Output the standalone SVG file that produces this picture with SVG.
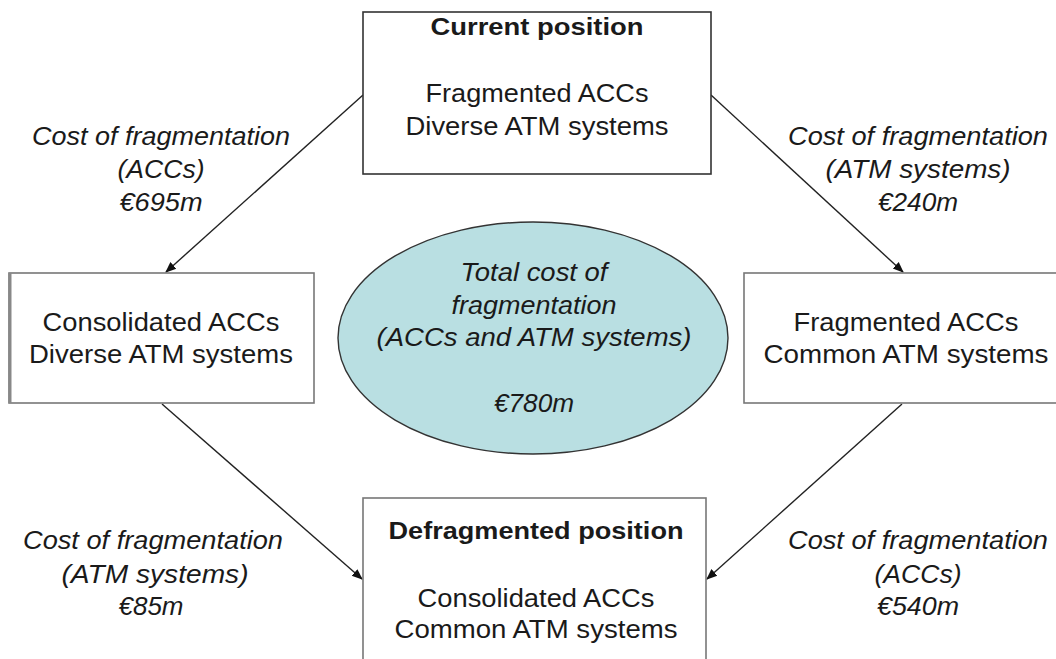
<svg xmlns="http://www.w3.org/2000/svg" width="1056" height="659" viewBox="0 0 1056 659">
<style>
.box{fill:#ffffff;stroke:#555555;stroke-width:1.6}
.t{font-family:"Liberation Sans",Arial,sans-serif;font-size:25px;fill:#1a1a1a;text-anchor:middle}
.b{font-weight:bold;font-size:23px}
.i{font-style:italic}
.conn{stroke:#222222;stroke-width:1.4;fill:none;marker-end:url(#ah)}
</style>
<defs>
<marker id="ah" viewBox="0 0 10 10" refX="9" refY="5" markerWidth="11" markerHeight="11" markerUnits="userSpaceOnUse" orient="auto">
<path d="M0,1 L10,5 L0,9 Z" fill="#111111"/>
</marker>
</defs>
<rect width="1056" height="659" fill="#ffffff"/>

<g id="connectors">
<line class="conn" x1="363" y1="95" x2="166" y2="272"/>
<line class="conn" x1="711" y1="95" x2="903" y2="272"/>
<line class="conn" x1="162" y1="404" x2="362" y2="579"/>
<line class="conn" x1="902" y1="404" x2="707" y2="579"/>
</g>

<g id="current">
<rect class="box" x="363" y="12" width="348" height="162" style="stroke:#333"/>
<text class="t b" x="537" y="35" textLength="213" lengthAdjust="spacingAndGlyphs">Current position</text>
<text class="t" x="537" y="102" textLength="223" lengthAdjust="spacingAndGlyphs">Fragmented ACCs</text>
<text class="t" x="537" y="135" textLength="263" lengthAdjust="spacingAndGlyphs">Diverse ATM systems</text>
</g>

<g id="consolidated">
<rect class="box" x="9" y="273" width="305" height="130" style="stroke:#777"/>
<line x1="10" y1="273" x2="10" y2="403" stroke="#888" stroke-width="3"/>
<text class="t" x="161" y="331" textLength="237" lengthAdjust="spacingAndGlyphs">Consolidated ACCs</text>
<text class="t" x="161" y="363" textLength="264" lengthAdjust="spacingAndGlyphs">Diverse ATM systems</text>
</g>

<g id="fragmented">
<rect class="box" x="744" y="273" width="320" height="130" style="stroke:#777"/>
<text class="t" x="906" y="331" textLength="225" lengthAdjust="spacingAndGlyphs">Fragmented ACCs</text>
<text class="t" x="906" y="363" textLength="285" lengthAdjust="spacingAndGlyphs">Common ATM systems</text>
</g>

<g id="defragmented">
<rect class="box" x="363" y="498" width="343" height="200" style="stroke:#777"/>
<text class="t b" x="536" y="539" textLength="295" lengthAdjust="spacingAndGlyphs">Defragmented position</text>
<text class="t" x="536" y="607" textLength="237" lengthAdjust="spacingAndGlyphs">Consolidated ACCs</text>
<text class="t" x="536" y="638" textLength="283" lengthAdjust="spacingAndGlyphs">Common ATM systems</text>
</g>

<g id="total">
<ellipse cx="533" cy="338" rx="195" ry="116" fill="#b9dfe2" stroke="#333" stroke-width="1.4"/>
<text class="t i" x="534" y="281" textLength="147" lengthAdjust="spacingAndGlyphs">Total cost of</text>
<text class="t i" x="534" y="314" textLength="165" lengthAdjust="spacingAndGlyphs">fragmentation</text>
<text class="t i" x="534" y="346" textLength="315" lengthAdjust="spacingAndGlyphs">(ACCs and ATM systems)</text>
<text class="t i" x="534" y="412" textLength="80" lengthAdjust="spacingAndGlyphs">€780m</text>
</g>

<g id="label-tl">
<text class="t i" x="161" y="145" textLength="258" lengthAdjust="spacingAndGlyphs">Cost of fragmentation</text>
<text class="t i" x="161" y="178" textLength="87" lengthAdjust="spacingAndGlyphs">(ACCs)</text>
<text class="t i" x="161" y="211" textLength="83" lengthAdjust="spacingAndGlyphs">€695m</text>
</g>

<g id="label-tr">
<text class="t i" x="918" y="145" textLength="260" lengthAdjust="spacingAndGlyphs">Cost of fragmentation</text>
<text class="t i" x="918" y="178" textLength="185" lengthAdjust="spacingAndGlyphs">(ATM systems)</text>
<text class="t i" x="918" y="211" textLength="80" lengthAdjust="spacingAndGlyphs">€240m</text>
</g>

<g id="label-bl">
<text class="t i" x="153" y="549" textLength="260" lengthAdjust="spacingAndGlyphs">Cost of fragmentation</text>
<text class="t i" x="155" y="583" textLength="187" lengthAdjust="spacingAndGlyphs">(ATM systems)</text>
<text class="t i" x="151" y="615" textLength="65" lengthAdjust="spacingAndGlyphs">€85m</text>
</g>

<g id="label-br">
<text class="t i" x="918" y="549" textLength="260" lengthAdjust="spacingAndGlyphs">Cost of fragmentation</text>
<text class="t i" x="918" y="583" textLength="87" lengthAdjust="spacingAndGlyphs">(ACCs)</text>
<text class="t i" x="918" y="615" textLength="82" lengthAdjust="spacingAndGlyphs">€540m</text>
</g>
</svg>
